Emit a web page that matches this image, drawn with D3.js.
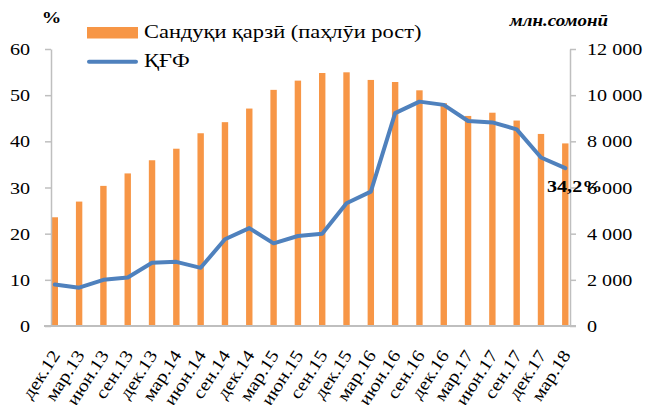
<!DOCTYPE html>
<html><head><meta charset="utf-8">
<script src="https://cdn.jsdelivr.net/npm/d3@7"></script>
<style>
html,body{margin:0;padding:0;background:#fff;}
text{font-family:"Liberation Serif","DejaVu Serif",serif;fill:#000;}
</style></head>
<body><svg id="c" width="648" height="405"></svg>
<script>
const categories = ["дек.12","мар.13","июн.13","сен.13","дек.13","мар.14","июн.14","сен.14","дек.14","мар.15","июн.15","сен.15","дек.15","мар.16","июн.16","сен.16","дек.16","мар.17","июн.17","сен.17","дек.17","мар.18"];
// Сандуқи қарзӣ, млн.сомонӣ (right axis)
const fundValues = [4710,5390,6070,6610,7180,7680,8350,8830,9420,10230,10630,10960,10990,10660,10570,10210,9650,9100,9240,8900,8320,7910];
// ҚҒФ, % (left axis)
const ratioValues = [9.0,8.3,10.0,10.5,13.7,13.9,12.6,18.8,21.2,17.9,19.5,20.0,26.6,29.1,46.1,48.6,47.9,44.4,44.1,42.6,36.5,34.2];
const leftTicks = [0,10,20,30,40,50,60];
const rightTicks = [0,2000,4000,6000,8000,10000,12000];
const seriesNames = ["Сандуқи қарзӣ (паҳлӯи рост)","ҚҒФ"];
const lastLabel = "34,2%";

const svg = d3.select("#c");
const SX = 1.15;
const x = d3.scalePoint().domain(categories).range([54.8,565.3]);
const yL = d3.scaleLinear().domain([0,60]).range([326,49]);
const yR = d3.scaleLinear().domain([0,12000]).range([326,49]);
const orange = "#F79646", blue = "#4F81BD", axisCol = "#BFBFBF";

function stretch(sel){
  sel.each(function(){
    const t=d3.select(this);
    const tx=+t.attr("x")||0, ty=+t.attr("y")||0;
    t.attr("transform",`translate(${tx},${ty}) scale(${SX},1) translate(${-tx},${-ty})`);
  });
}

// bars
svg.append("g").selectAll("rect").data(fundValues).join("rect")
  .attr("x",(d,i)=>x(categories[i])-3.2).attr("width",6.4)
  .attr("y",d=>yR(d)).attr("height",d=>yR(0)-yR(d))
  .attr("fill",orange);

// left axis
const gL = svg.append("g").attr("transform","translate(51,0)")
  .call(d3.axisLeft(yL).tickValues(leftTicks).tickSize(6).tickPadding(15).tickSizeOuter(0));
gL.select(".domain").attr("stroke",axisCol).attr("stroke-width",1.5);
gL.selectAll(".tick line").attr("stroke",axisCol).attr("stroke-width",1.5);
gL.selectAll(".tick text").attr("font-size",17.5).attr("font-family","Liberation Serif").attr("fill","#000")
  .each(function(){ const t=d3.select(this); t.attr("x",-21).attr("y",0).attr("transform",`scale(${SX},1)`).attr("x",-21/SX); });

// right axis
const fmt = d=> d3.format(",")(d).replace(/,/g," ");
const gR = svg.append("g").attr("transform","translate(570,0)")
  .call(d3.axisRight(yR).tickValues(rightTicks).tickSize(6).tickPadding(11).tickSizeOuter(0).tickFormat(fmt));
gR.select(".domain").attr("stroke",axisCol).attr("stroke-width",1.5);
gR.selectAll(".tick line").attr("stroke",axisCol).attr("stroke-width",1.5);
gR.selectAll(".tick text").attr("font-size",17.5).attr("font-family","Liberation Serif").attr("fill","#000")
  .attr("transform",`scale(${SX},1)`).attr("x",17/SX);

// baseline
svg.append("line").attr("x1",44).attr("x2",576).attr("y1",yL(0)).attr("y2",yL(0))
  .attr("stroke",axisCol).attr("stroke-width",1.8);

// line series
const line = d3.line().x((d,i)=>x(categories[i])).y(d=>yL(d));
svg.append("path").datum(ratioValues).attr("d",line)
  .attr("fill","none").attr("stroke",blue).attr("stroke-width",4)
  .attr("stroke-linejoin","round").attr("stroke-linecap","round");

// x labels
svg.append("g").selectAll("text").data(categories).join("text")
  .attr("transform",d=>`translate(${x(d)+6},355) rotate(-57) scale(${SX},1)`)
  .attr("text-anchor","end").attr("font-size",17.5).text(d=>d);

// legend
svg.append("rect").attr("x",87).attr("y",27).attr("width",51).attr("height",11.5).attr("fill",orange);
svg.append("line").attr("x1",89).attr("x2",136).attr("y1",61.7).attr("y2",61.7)
  .attr("stroke",blue).attr("stroke-width",4).attr("stroke-linecap","round");
svg.append("text").attr("x",144).attr("y",38.5).attr("font-size",19.5).text(seriesNames[0]).call(stretch);
svg.append("text").attr("x",144).attr("y",67.5).attr("font-size",19.5).text(seriesNames[1]).call(stretch);

// axis titles
svg.append("text").attr("x",51.5).attr("y",23.5).attr("text-anchor","middle").attr("font-size",17)
  .attr("font-weight","bold").text("%").call(stretch);
svg.append("text").attr("x",608).attr("y",26).attr("text-anchor","end").attr("font-size",16.5)
  .attr("font-weight","bold").attr("font-style","italic").text("млн.сомонӣ").call(stretch);

// data label for last point
svg.append("text").attr("x",547).attr("y",192).attr("font-size",17.5).attr("font-weight","bold")
  .text(lastLabel).call(stretch);
</script></body></html>
